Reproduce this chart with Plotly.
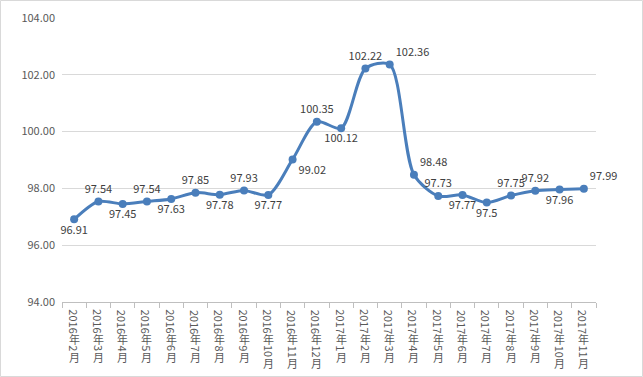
import re
import plotly.graph_objects as go

months = ["2016年2月", "2016年3月", "2016年4月", "2016年5月", "2016年6月", "2016年7月",
          "2016年8月", "2016年9月", "2016年10月", "2016年11月", "2016年12月", "2017年1月",
          "2017年2月", "2017年3月", "2017年4月", "2017年5月", "2017年6月", "2017年7月",
          "2017年8月", "2017年9月", "2017年10月", "2017年11月"]
values = [96.91, 97.54, 97.45, 97.54, 97.63, 97.85, 97.78, 97.93, 97.77, 99.02, 100.35, 100.12,
          102.22, 102.36, 98.48, 97.73, 97.77, 97.5, 97.75, 97.92, 97.96, 97.99]
label_pos = ["bottom center", "top center", "bottom center", "top center", "bottom center",
             "top center", "bottom center", "top center", "bottom center", "bottom right",
             "top center", "bottom center", "top center", "top right", "top right",
             "top center", "bottom center", "bottom center", "top center", "top center",
             "bottom center", "top right"]
labels = [f"{v:g}" for v in values]

W, H = 643, 377
L, R, T, B = 62, 47, 18, 75
pw, ph = W - L - R, H - T - B
FONT = "Noto Sans CJK SC, sans-serif"

fig = go.Figure()
fig.add_trace(go.Scatter(
    x=months, y=values, mode="lines+markers+text",
    line=dict(color="#4a7ebb", width=3, shape="spline", smoothing=0.8),
    marker=dict(color="#4a7ebb", size=8),
    text=labels, textposition=label_pos,
    textfont=dict(family=FONT, size=11, color="#404040"),
    cliponaxis=False, showlegend=False, hoverinfo="skip",
))

# vertical (East-Asian style) category labels: digits rotated, CJK upright
annotations = []
DIGIT_H, CJK_H, START = 6.0, 11.8, 309.5 - (T + ph)
for m in months:
    offset = START
    for part in re.findall(r"\d+|\D", m):
        is_digit = part.isdigit()
        h = len(part) * DIGIT_H if is_digit else CJK_H
        annotations.append(dict(
            x=m, xref="x", y=-(offset + h / 2) / ph, yref="paper",
            text=part, showarrow=False, textangle=90 if is_digit else 0,
            xanchor="center", yanchor="middle",
            font=dict(family=FONT, size=11, color="#595959"),
        ))
        offset += h

fig.update_layout(
    width=W, height=H,
    margin=dict(l=L, r=R, t=T, b=B),
    paper_bgcolor="white", plot_bgcolor="white",
    font=dict(family=FONT, size=11, color="#595959"),
    hovermode=False,
    xaxis=dict(
        type="category", tickson="boundaries", ticks="outside", ticklen=5,
        tickcolor="#bfbfbf", showline=True, linecolor="#bfbfbf", showgrid=False,
        showticklabels=False, automargin=False, range=[-0.5, len(months) - 0.5],
    ),
    yaxis=dict(
        range=[94, 104], dtick=2, tickformat=".2f", showgrid=True, gridcolor="#d9d9d9",
        zeroline=False, showline=False, ticks="", automargin=False,
        ticklabelstandoff=6,
        tickfont=dict(size=11, color="#595959"),
    ),
    annotations=annotations,
    shapes=[dict(
        type="rect", xref="paper", yref="paper",
        x0=(0.5 - L) / pw, x1=(W - 0.5 - L) / pw,
        y0=-(H - 0.5 - (T + ph)) / ph, y1=(T + ph - 0.5) / ph,
        line=dict(color="#d9d9d9", width=1), layer="below",
    )],
)

fig.write_html("out.html", config={"displayModeBar": False},
               post_script="document.body.style.margin='0';document.body.style.overflow='hidden';")
